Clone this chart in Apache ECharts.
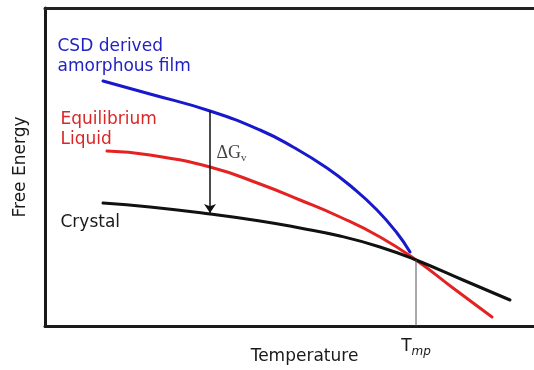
<!DOCTYPE html>
<html>
<head>
<meta charset="utf-8">
<title>Free Energy vs Temperature</title>
<script src="https://cdn.jsdelivr.net/npm/echarts@6/dist/echarts.min.js"></script>
</head>
<body style="margin:0;background:#fff">
<div id="container" style="width:534px;height:370px;"></div>
<script>
// schematic units: temperature 0..489, free energy 0..318
var amorphous = [[58, 245], [105, 232], [165, 215], [215, 196], [248, 179], [282, 158], [308, 138], [332, 116], [352, 93], [365, 74]];
var liquid = [[62, 175], [105, 171], [165, 159], [215, 142], [255, 126], [295, 109], [335, 89], [371, 66], [408, 38], [447, 9]];
var crystal = [[58, 123], [105, 119], [165, 112], [215, 105], [255, 98], [295, 90], [335, 79], [371, 66], [418, 46], [465, 26]];
var meltPoint = 371;
var meltLine = [[371, 0], [371, 66]];
var deltaArrow = [[165, 215], [165, 113]];
// annotations: [x, y, text]
var notes = [
  [12, 269, '{b|CSD derived}\n{b|amorphous film}'],
  [15, 196, '{r|Equilibrium}\n{r|Liquid}'],
  [15, 103, '{k|Crystal}'],
  [171, 173, '{g|ΔG}{gs|v}']
];

var myChart = echarts.init(document.getElementById('container'));
var option = {
  animation: false,
  grid: { left: 45, right: 0, top: 8, bottom: 44, containLabel: false, outerBoundsMode: 'none' },
  xAxis: [{
    type: 'value',
    min: 0,
    max: 489,
    name: 'Temperature',
    nameLocation: 'middle',
    nameGap: 22,
    nameMoveOverlap: false,
    nameTextStyle: { fontFamily: 'DejaVu Sans', fontSize: 17, color: '#1a1a1a', padding: [0, 0, 0, 30] },
    axisLine: { show: true, onZero: false, lineStyle: { color: '#1a1a1a', width: 3 } },
    axisTick: { show: false },
    splitLine: { show: false },
    axisLabel: {
      show: true,
      customValues: [meltPoint],
      margin: 10,
      formatter: function () { return '{t|T}{s|mp}'; },
      rich: {
        t: { fontFamily: 'DejaVu Sans', fontSize: 17, color: '#1a1a1a' },
        s: { fontFamily: 'DejaVu Sans', fontSize: 12, fontStyle: 'italic', color: '#1a1a1a', padding: [10, 0, 0, 0] }
      }
    }
  }, {
    type: 'value',
    position: 'top',
    min: 0,
    max: 489,
    axisLine: { show: true, onZero: false, lineStyle: { color: '#222', width: 3 } },
    axisTick: { show: false },
    axisLabel: { show: false },
    splitLine: { show: false }
  }],
  yAxis: {
    type: 'value',
    min: 0,
    max: 318,
    name: 'Free Energy',
    nameLocation: 'middle',
    nameGap: 16,
    nameTextStyle: { fontFamily: 'DejaVu Sans', fontSize: 17, color: '#1a1a1a' },
    axisLine: { show: true, onZero: false, lineStyle: { color: '#1a1a1a', width: 3 } },
    axisTick: { show: false },
    axisLabel: { show: false },
    splitLine: { show: false }
  },
  series: [
    {
      name: 'CSD derived amorphous film',
      type: 'line',
      data: amorphous,
      smooth: true,
      symbol: 'none',
      lineStyle: { color: '#1818cc', width: 3, cap: 'round' }
    },
    {
      name: 'Equilibrium Liquid',
      type: 'line',
      data: liquid,
      smooth: true,
      symbol: 'none',
      lineStyle: { color: '#e42222', width: 3, cap: 'round' }
    },
    {
      name: 'Crystal',
      type: 'line',
      data: crystal,
      smooth: true,
      symbol: 'none',
      lineStyle: { color: '#111', width: 3, cap: 'round' }
    },
    {
      name: 'Tmp',
      type: 'line',
      data: meltLine,
      symbol: 'none',
      lineStyle: { color: '#555', width: 1 }
    },
    {
      name: 'arrow',
      type: 'line',
      data: [],
      markLine: {
        silent: true,
        symbol: ['none', 'arrow'],
        symbolSize: 9,
        label: { show: false },
        lineStyle: { color: '#111', width: 1.5, type: 'solid' },
        data: [[{ coord: deltaArrow[0] }, { coord: deltaArrow[1] }]]
      }
    },
    {
      name: 'notes',
      type: 'scatter',
      data: notes,
      symbolSize: 1,
      itemStyle: { color: 'rgba(255,255,255,0)', opacity: 1 },
      label: {
        show: true,
        opacity: 1,
        position: 'right',
        distance: 0,
        formatter: function (p) { return p.data[2]; },
        rich: {
          b: { fontFamily: 'DejaVu Sans', fontSize: 17, color: '#2222c4', opacity: 1, lineHeight: 20 },
          r: { fontFamily: 'DejaVu Sans', fontSize: 17, color: '#dc2626', opacity: 1, lineHeight: 20 },
          k: { fontFamily: 'DejaVu Sans', fontSize: 17, color: '#1a1a1a', opacity: 1, lineHeight: 20 },
          g: { fontFamily: 'Liberation Serif', fontSize: 18, color: '#444', opacity: 1 },
          gs: { fontFamily: 'Liberation Serif', fontSize: 11, color: '#444', opacity: 1, padding: [10, 0, 0, 0] }
        }
      }
    }
  ]
};
myChart.setOption(option);
</script>
</body>
</html>
